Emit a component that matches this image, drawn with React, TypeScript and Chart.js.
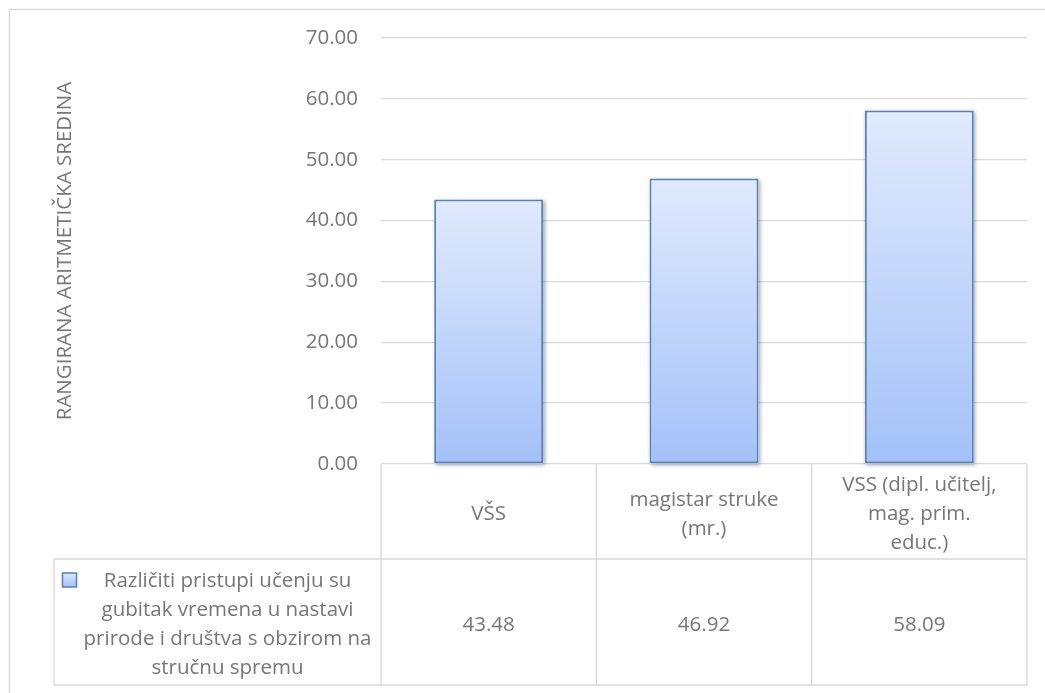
import React, { useEffect, useRef } from "react";
import { Chart, registerables } from "chart.js";

Chart.register(...registerables);

// ---- data ----
const categories: string[][] = [
  ["VŠS"],
  ["magistar struke", "(mr.)"],
  ["VSS (dipl. učitelj,", "mag. prim.", "educ.)"],
];
const seriesName: string[] = [
  "Različiti pristupi učenju su",
  "gubitak vremena u nastavi",
  "prirode i društva s obzirom na",
  "stručnu spremu",
];
const seriesValues: number[] = [43.48, 46.92, 58.09];
const yTicks: number[] = [0, 10, 20, 30, 40, 50, 60, 70];
const yTitle = "RANGIRANA ARITMETIČKA SREDINA";

// ---- style ----
const W = 1045;
const H = 693;
const FAMILY = "'Open Sans', 'Noto Sans', sans-serif";
const FSIZE = 20.5;
const TEXT = "#767676";
const GRID = "#d9d9d9";
const BAR_BORDER = "#4f81bd";
const GRAD_TOP = "#e1eafd";
const GRAD_BOTTOM = "#a3c1f8";
const LH = 29;
const BASE_OFF = 8.5;
const HEADER_H = 95;
const VALUE_H = 126;
const LEGEND_LEFT = 54;

const framePlugin = {
  id: "frame",
  beforeDraw(chart: any) {
    const ctx = chart.ctx;
    ctx.save();
    ctx.fillStyle = "#ffffff";
    ctx.fillRect(0, 0, chart.width, chart.height);
    ctx.strokeStyle = GRID;
    ctx.lineWidth = 1.3;
    ctx.strokeRect(9.5, 9.5, chart.width + 50, chart.height + 50);
    ctx.restore();
  },
};

const shadowPlugin = {
  id: "barShadow",
  beforeDatasetsDraw(chart: any) {
    const ctx = chart.ctx;
    const meta = chart.getDatasetMeta(0);
    ctx.save();
    ctx.shadowColor = "rgba(0,0,0,0.35)";
    ctx.shadowBlur = 4;
    ctx.shadowOffsetX = 1.5;
    ctx.shadowOffsetY = 1.5;
    ctx.fillStyle = "#ffffff";
    meta.data.forEach((el: any) => {
      const left = el.x - el.width / 2;
      const top = Math.min(el.y, el.base);
      const h = Math.abs(el.base - el.y);
      ctx.fillRect(left, top, el.width, h);
    });
    ctx.restore();
  },
};

function barGradient(ctx: CanvasRenderingContext2D, top: number, bottom: number) {
  const g = ctx.createLinearGradient(0, top, 0, bottom);
  g.addColorStop(0, GRAD_TOP);
  g.addColorStop(1, GRAD_BOTTOM);
  return g;
}

const tablePlugin = {
  id: "dataTable",
  afterDraw(chart: any) {
    const { ctx, chartArea: a } = chart;
    const x = chart.scales.x;
    const n = categories.length;
    const edges: number[] = [];
    for (let i = 0; i <= n; i++) edges.push(x.getPixelForValue(i - 0.5));
    const y0 = a.bottom;
    const y1 = y0 + HEADER_H;
    const y2 = y1 + VALUE_H;

    ctx.save();
    ctx.strokeStyle = GRID;
    ctx.lineWidth = 1.3;
    ctx.beginPath();
    ctx.moveTo(LEGEND_LEFT, y1);
    ctx.lineTo(a.right, y1);
    ctx.moveTo(LEGEND_LEFT, y2);
    ctx.lineTo(a.right, y2);
    edges.forEach((e) => {
      ctx.moveTo(e, y0);
      ctx.lineTo(e, y2);
    });
    ctx.moveTo(LEGEND_LEFT, y1);
    ctx.lineTo(LEGEND_LEFT, y2);
    ctx.stroke();

    ctx.font = `${FSIZE}px ${FAMILY}`;
    ctx.fillStyle = TEXT;
    ctx.textAlign = "center";
    ctx.textBaseline = "alphabetic";

    // header labels
    categories.forEach((lines, i) => {
      const cx = (edges[i] + edges[i + 1]) / 2;
      const cy = (y0 + y1) / 2;
      lines.forEach((t, j) => {
        ctx.fillText(t, cx, cy + (j - (lines.length - 1) / 2) * LH + BASE_OFF);
      });
    });

    // values
    const vy = (y1 + y2) / 2;
    seriesValues.forEach((v, i) => {
      const cx = (edges[i] + edges[i + 1]) / 2;
      ctx.fillText(v.toFixed(2), cx, vy + BASE_OFF);
    });

    // legend cell
    const lcx = (LEGEND_LEFT + a.left) / 2 + 10;
    const firstBase = vy - ((seriesName.length - 1) / 2) * LH + BASE_OFF;
    seriesName.forEach((t, j) => {
      ctx.fillText(t, lcx, firstBase + j * LH);
    });
    const bx = LEGEND_LEFT + 8.5;
    const by = firstBase - 14;
    ctx.fillStyle = barGradient(ctx, by, by + 14);
    ctx.fillRect(bx, by, 14, 14);
    ctx.strokeStyle = BAR_BORDER;
    ctx.lineWidth = 1.5;
    ctx.strokeRect(bx, by, 14, 14);
    ctx.restore();
  },
};

export default function App() {
  const ref = useRef<HTMLCanvasElement | null>(null);

  useEffect(() => {
    if (!ref.current) return;
    const chart = new Chart(ref.current, {
      type: "bar",
      data: {
        labels: categories.map((c) => c.join(" ")),
        datasets: [
          {
            label: seriesName.join(" "),
            data: seriesValues,
            backgroundColor: (c: any) => {
              const ch = c.chart;
              const y = ch.scales && ch.scales.y;
              if (!y || c.type !== "data") return "#c9dbfb";
              const top = y.getPixelForValue(c.raw as number);
              const bot = y.getPixelForValue(0);
              if (!isFinite(top) || !isFinite(bot)) return "#c9dbfb";
              return barGradient(ch.ctx, top, bot);
            },
            borderColor: BAR_BORDER,
            borderWidth: 2,
            borderSkipped: false,
            categoryPercentage: 1,
            barPercentage: 0.506,
          },
        ],
      },
      options: {
        responsive: false,
        animation: false,
        devicePixelRatio: 1,
        layout: { padding: { left: 0, right: 18, top: 38, bottom: 229 } },
        plugins: {
          legend: { display: false },
          tooltip: { enabled: false },
        },
        scales: {
          x: {
            type: "category",
            display: false,
            offset: true,
          },
          y: {
            min: yTicks[0],
            max: yTicks[yTicks.length - 1],
            ticks: {
              stepSize: yTicks[1] - yTicks[0],
              callback: (v: any) => Number(v).toFixed(2),
              color: TEXT,
              font: { family: FAMILY, size: FSIZE },
              padding: 23,
            },
            grid: { color: GRID, lineWidth: 1.3, drawTicks: false },
            border: { display: false },
            title: {
              display: true,
              text: yTitle,
              color: TEXT,
              font: { family: FAMILY, size: FSIZE },
              padding: { top: 52.7, bottom: 0 },
            },
            afterFit: (s: any) => {
              s.width = 381;
            },
          },
        },
      },
      plugins: [framePlugin, shadowPlugin, tablePlugin],
    });
    return () => chart.destroy();
  }, []);

  return (
    <div style={{ position: "fixed", left: 0, top: 0, width: W, height: H, background: "#fff" }}>
      <canvas ref={ref} width={W} height={H} style={{ display: "block", width: W, height: H }} />
    </div>
  );
}
